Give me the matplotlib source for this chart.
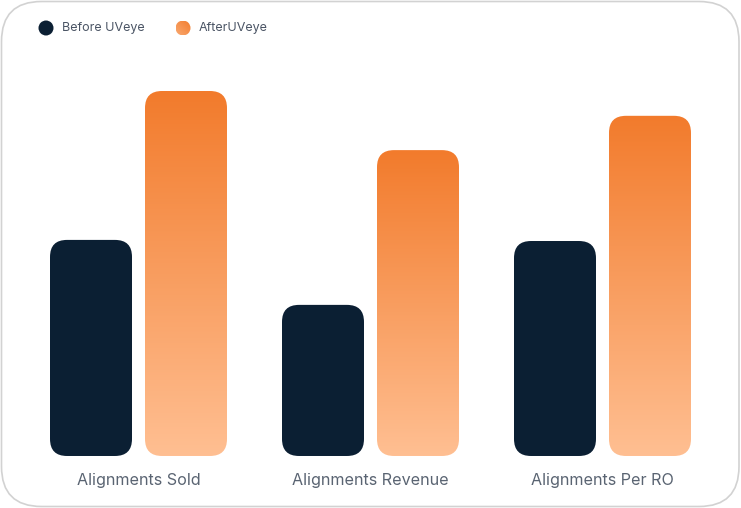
import numpy as np
import matplotlib.pyplot as plt
from matplotlib.patches import FancyBboxPatch, Ellipse
from matplotlib.colors import LinearSegmentedColormap

# data (relative values)
categories = ['Alignments Sold', 'Alignments Revenue', 'Alignments Per RO']
before_vals = [59.2, 41.4, 58.9]
after_vals = [100.0, 83.8, 93.2]
series_names = ['Before UVeye', 'AfterUVeye']

dark = '#0b1f33'
orange_top = '#f27b2c'
orange_bottom = '#ffbf92'
label_col = '#5a6472'

plt.rcParams['font.family'] = ['Inter', 'DejaVu Sans']

fig = plt.figure(figsize=(7.41, 5.08), dpi=100)
ax = fig.add_axes([0, 0, 1, 1])
ax.patch.set_alpha(0)
ax.set_xlim(-0.597, 2.597)
ax.set_ylim(-14.25, 124.93)
ax.axis('off')

# card border (behind everything)
fig.patches.append(FancyBboxPatch((1.5 / 741, 1.5 / 508), 737.5 / 741, 505 / 508,
                                  boxstyle='round,pad=0,rounding_size=%f' % (40 / 741),
                                  mutation_aspect=741 / 508, transform=fig.transFigure,
                                  facecolor='white', edgecolor='#d2d2d2', lw=1.2, zorder=-10))

bar_w = 82 / 232
offset = 47.5 / 232

# rounding: same pixel radius in x and y
fig.canvas.draw()
p0 = ax.transData.transform((0, 0))
p1 = ax.transData.transform((1, 1))
px_x = p1[0] - p0[0]
px_y = p1[1] - p0[1]
r_px = 17
aspect = px_x / px_y

cmap = LinearSegmentedColormap.from_list('og', [orange_bottom, orange_top])
grad = np.linspace(0, 1, 256).reshape(-1, 1)

x = np.arange(len(categories))
for i in range(len(categories)):
    # before bar
    b = FancyBboxPatch((x[i] - offset - bar_w / 2, 0), bar_w, before_vals[i],
                       boxstyle='round,pad=0,rounding_size=%f' % (r_px / px_x),
                       mutation_aspect=aspect, facecolor=dark, edgecolor='none', zorder=2)
    ax.add_patch(b)

    # after bar with gradient
    left = x[i] + offset - bar_w / 2
    a = FancyBboxPatch((left, 0), bar_w, after_vals[i],
                       boxstyle='round,pad=0,rounding_size=%f' % (r_px / px_x),
                       mutation_aspect=aspect, facecolor='none', edgecolor='none', zorder=2)
    ax.add_patch(a)
    im = ax.imshow(grad, cmap=cmap, origin='lower', aspect='auto',
                   extent=(left, left + bar_w, 0, after_vals[i]), zorder=2)
    im.set_clip_path(a)

    ax.text(x[i], -6.6, categories[i], ha='center', va='center',
            fontsize=11.6, color=label_col)

# legend
fig.patches.append(Ellipse((46 / 741, 1 - 28 / 508), 15 / 741, 15 / 508,
                           transform=fig.transFigure, facecolor=dark, edgecolor='none'))
fig.text(62 / 741, 1 - 28.5 / 508, series_names[0], ha='left', va='center',
         fontsize=9.0, color='#4b5565')
ax_c = fig.add_axes([175.5 / 741, 1 - 35.5 / 508, 15 / 741, 15 / 508])
ax_c.patch.set_alpha(0)
ax_c.axis('off')
ax_c.set_xlim(0, 1)
ax_c.set_ylim(0, 1)
cg = np.add.outer(np.linspace(0, 1, 64), np.linspace(0, 1, 64))[::-1] / 2
ci = ax_c.imshow(cg, cmap=LinearSegmentedColormap.from_list('c', ['#f9a86f', orange_top]),
                 extent=(0, 1, 0, 1), aspect='auto')
circ = plt.Circle((0.5, 0.5), 0.5, transform=ax_c.transData, facecolor='none', edgecolor='none')
ax_c.add_patch(circ)
ci.set_clip_path(circ)
fig.text(199 / 741, 1 - 28.5 / 508, series_names[1], ha='left', va='center',
         fontsize=9.0, color='#4b5565')

fig.savefig('out.png', dpi=100)
